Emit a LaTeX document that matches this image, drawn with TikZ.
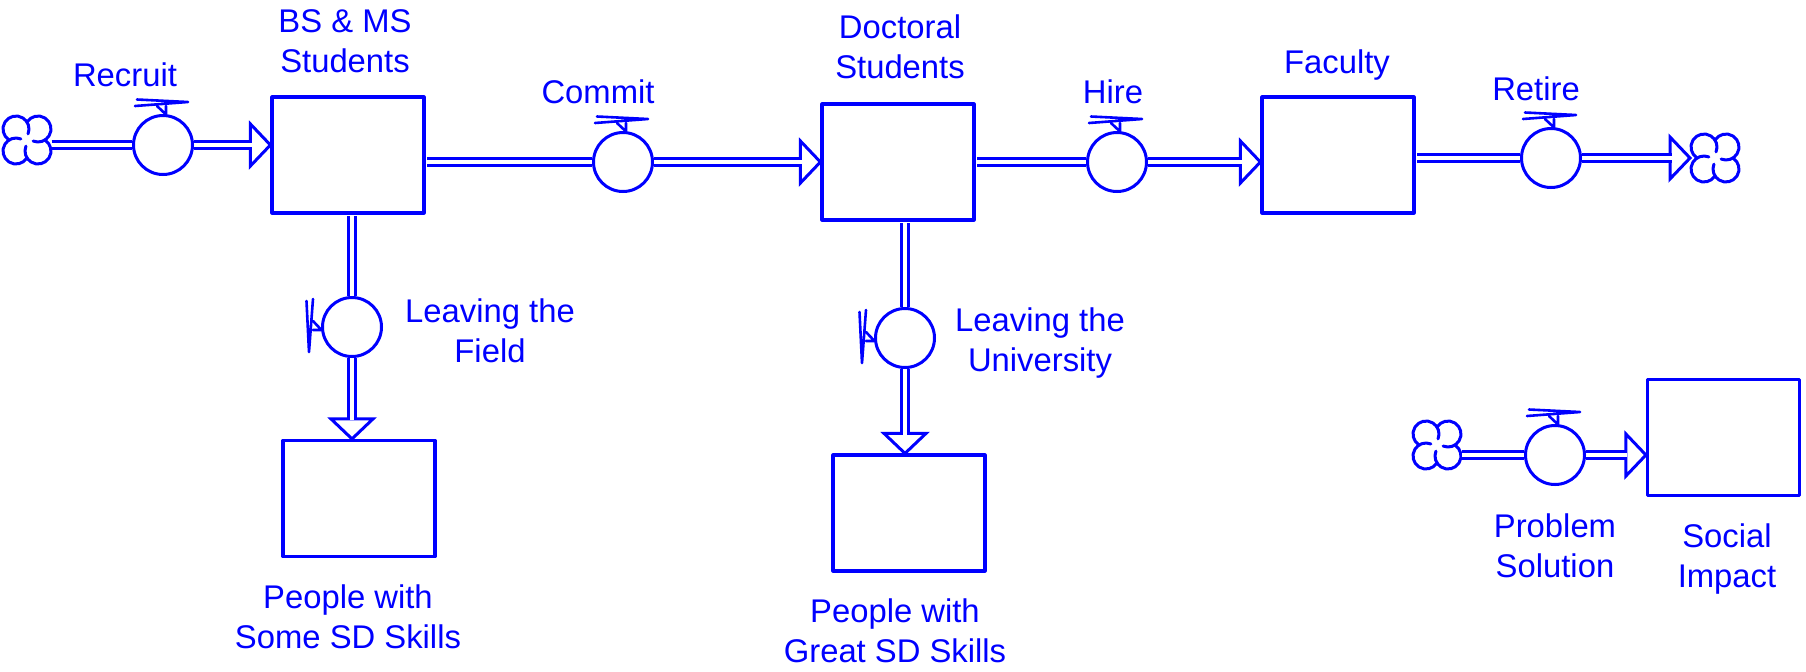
\documentclass[tikz,border=0pt]{standalone}
\usepackage{fontspec}
\setmainfont{Liberation Sans}
\usetikzlibrary{calc}
\definecolor{vblue}{RGB}{0,0,255}
\pgfdeclarelayer{pipelayer}
\pgfdeclarelayer{frontlayer}
\pgfsetlayers{main,pipelayer,frontlayer}
\newcommand{\lstrut}{\rule{0pt}{13pt}}
\begin{document}
\begin{tikzpicture}[x=0.5pt,y=-0.5pt,line join=round,
  stock/.style={rectangle,draw=vblue,line width=1.6pt,fill=white,minimum width=76pt,minimum height=58pt,inner sep=0pt},
  valve/.style={circle,draw=vblue,line width=1.5pt,fill=white,minimum size=29.5pt,inner sep=0pt},
  pipe/.style={draw=vblue,line width=1.3pt,double=white,double distance=2.2pt},
  ahead/.style={draw=vblue,line width=1.5pt,fill=white,line join=miter},
  handle/.style={draw=vblue,line width=1.3pt,line cap=round,line join=round},
  cloudline/.style={draw=vblue,line width=1.5pt,line cap=round},
  lbl/.style={text=vblue,font=\fontsize{16.4}{20.25}\selectfont,align=center,inner sep=0pt,anchor=north},
  cloud/.pic={
    \foreach \r in {0,90,180,270}{
      \draw[cloudline,rotate=\r] (-11,-11) ++(122:13) arc[start angle=122,end angle=382,radius=13];
    }
  },
  hhandle/.pic={
    \draw[handle] (-26,-45.5) -- (25,-43) -- (-28,-39);
    \draw[handle] (-6,-39) -- (3,-30.5) -- (3,-39);
  },
  vhandle/.pic={
    \draw[handle] (-45.5,-26) -- (-43,25) -- (-39,-28);
    \draw[handle] (-39,-6) -- (-30.5,3) -- (-39,3);
  }]
\useasboundingbox (0,0) rectangle (1806,671);

% stocks
\node[stock] (bs)    at (348,155) {};
\node[stock] (doc)   at (898,162) {};
\node[stock] (fac)   at (1338,155) {};
\node[stock] (some)  at (359,498.5) {};
\node[stock] (great) at (909,513) {};
\node[stock] (soc)   at (1723.5,437.5) {};

% clouds
\coordinate (c1) at (27,140);
\coordinate (c2) at (1715,158);
\coordinate (c3) at (1437,445);
\pic at (c1) {cloud};
\pic at (c2) {cloud};
\pic at (c3) {cloud};

% valves
\begin{pgfonlayer}{frontlayer}
\node[valve] (vrec)   at (163,145) {};
\node[valve] (vcom)   at (623,162) {};
\node[valve] (vhire)  at (1117,162) {};
\node[valve] (vret)   at (1551,158) {};
\node[valve] (vfield) at (352,327) {};
\node[valve] (vuni)   at (905,338) {};
\node[valve] (vprob)  at (1555,455) {};
\pic at (vrec) {hhandle};
\pic at (vcom) {hhandle};
\pic at (vhire) {hhandle};
\pic at (vret) {hhandle};
\pic at (vprob) {hhandle};
\pic at (vfield) {vhandle};
\pic at (vuni) {vhandle};
\end{pgfonlayer}

% arrow tips
\coordinate (t1) at (bs.west |- vrec);
\coordinate (t2) at (doc.west |- vcom);
\coordinate (t3) at (fac.west |- vhire);
\coordinate (t4) at ($(c2)+(-25,0)$);
\coordinate (t5) at (soc.west |- vprob);
\coordinate (t6) at (vfield |- some.north);
\coordinate (t7) at (vuni |- great.north);

\foreach \t in {t1,t2,t3,t4,t5}{
  \draw[ahead] ($(\t)+(-20,-21)$) -- (\t) -- ($(\t)+(-20,21)$) -- cycle;
}
\foreach \t in {t6,t7}{
  \draw[ahead] ($(\t)+(-21,-20)$) -- (\t) -- ($(\t)+(21,-20)$) -- cycle;
}

% pipes
\begin{pgfonlayer}{pipelayer}
\draw[pipe] ($(c1)+(24.5,5)$) -- (vrec) -- ($(t1)+(-18.5,0)$);
\draw[pipe] ($(bs.east |- vcom)+(1.6,0)$) -- (vcom) -- ($(t2)+(-18.5,0)$);
\draw[pipe] ($(doc.east |- vhire)+(1.6,0)$) -- (vhire) -- ($(t3)+(-18.5,0)$);
\draw[pipe] ($(fac.east |- vret)+(1.6,0)$) -- (vret) -- ($(t4)+(-18.5,0)$);
\draw[pipe] ($(c3)+(25,10)$) -- (vprob) -- ($(t5)+(-18.5,0)$);
\draw[pipe] ($(bs.south -| vfield)+(0,1.6)$) -- (vfield) -- ($(t6)+(0,-18.5)$);
\draw[pipe] ($(doc.south -| vuni)+(0,1.6)$) -- (vuni) -- ($(t7)+(0,-18.5)$);
\end{pgfonlayer}

% labels (position = first baseline minus strut height)
\node[lbl] (lrec)   at (125,60)   {\lstrut Recruit};
\node[lbl] (lbs)    at (345,6)    {\lstrut BS \& MS\\Students};
\node[lbl] (lcom)   at (598,77)   {\lstrut Commit};
\node[lbl] (ldoc)   at (900,12)   {\lstrut Doctoral\\Students};
\node[lbl] (lhire)  at (1113,77)  {\lstrut Hire};
\node[lbl] (lfac)   at (1337,47)  {\lstrut Faculty};
\node[lbl] (lret)   at (1536,74)  {\lstrut Retire};
\node[lbl] (lfield) at (490,296)  {\lstrut Leaving the\\Field};
\node[lbl] (luni)   at (1040,305) {\lstrut Leaving the\\University};
\node[lbl] (lsome)  at (348,582)  {\lstrut People with\\Some SD Skills};
\node[lbl] (lgreat) at (895,596)  {\lstrut People with\\Great SD Skills};
\node[lbl] (lprob)  at (1555,511) {\lstrut Problem\\Solution};
\node[lbl] (lsoc)   at (1727,521) {\lstrut Social\\Impact};
\end{tikzpicture}
\end{document}
